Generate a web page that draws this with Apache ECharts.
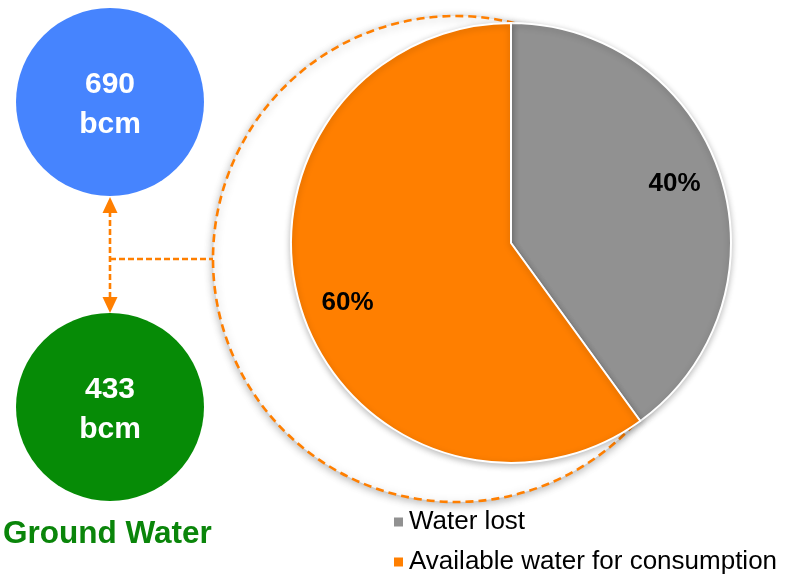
<!DOCTYPE html>
<html>
<head>
<meta charset="utf-8">
<script src="https://cdn.jsdelivr.net/npm/echarts@6/dist/echarts.min.js"></script>
<style>
html,body{margin:0;padding:0;background:#fff;}
#main{width:786px;height:574px;}
</style>
</head>
<body>
<div id="main"></div>
<script>
// Data
var pieCategories = ['Water lost', 'Available water for consumption'];
var pieValues = [40, 60];
var pieColors = ['#919191', '#FF7F00'];
var circleNames = ['Surface Water', 'Ground Water'];
var circleValues = [690, 433];
var circleUnit = 'bcm';
var groundLabel = 'Ground Water';

var chart = echarts.init(document.getElementById('main'), null, {renderer: 'canvas'});

var pieData = pieCategories.map(function (n, i) {
  return {name: n, value: pieValues[i], itemStyle: {color: pieColors[i]}};
});

var dash = '#FF7F00';
var font = 'Liberation Sans, Arial, sans-serif';
function legendFor(name, top) {
  return {
    orient: 'vertical',
    left: 387,
    top: top,
    data: [name],
    icon: 'rect',
    itemWidth: 11,
    itemHeight: 11,
    selectedMode: false,
    textStyle: {fontFamily: font, fontSize: 26, color: '#000', lineHeight: 28}
  };
}
var option = {
  animation: false,
  backgroundColor: '#fff',
  title: {
    text: groundLabel,
    left: 3,
    top: 517,
    padding: 0,
    textStyle: {fontFamily: font, fontSize: 31.5, fontWeight: 'bold', color: '#0A850A', lineHeight: 34}
  },
  legend: [legendFor(pieCategories[0], 503), legendFor(pieCategories[1], 543)],
  graphic: [
    {type: 'circle', z: 0, shape: {cx: 456, cy: 259, r: 243},
     style: {fill: '#fff', stroke: dash, lineWidth: 2.6, lineDash: [8, 5], shadowBlur: 8, shadowColor: 'rgba(0,0,0,0.28)', shadowOffsetY: 2}},
    {type: 'line', z: 1, shape: {x1: 110, y1: 211, x2: 110, y2: 299},
     style: {stroke: dash, lineWidth: 2.6, lineDash: [6, 3]}},
    {type: 'line', z: 1, shape: {x1: 110, y1: 259, x2: 213, y2: 259},
     style: {stroke: dash, lineWidth: 2.6, lineDash: [6, 3]}},
    {type: 'polygon', z: 1, shape: {points: [[102.5, 213], [117.5, 213], [110, 197]]}, style: {fill: dash}},
    {type: 'polygon', z: 1, shape: {points: [[102.5, 297], [117.5, 297], [110, 313]]}, style: {fill: dash}}
  ],
  series: [
    {
      type: 'pie',
      name: 'Water',
      center: [511, 243],
      radius: [0, 220],
      startAngle: 90,
      clockwise: true,
      z: 3,
      silent: true,
      label: {show: false},
      labelLine: {show: false},
      itemStyle: {borderColor: '#fff', borderWidth: 2, shadowBlur: 6, shadowColor: 'rgba(0,0,0,0.25)', shadowOffsetY: 2},
      data: pieData
    },
    {
      type: 'pie',
      name: 'WaterLabels',
      center: [511, 243],
      radius: [122, 220],
      startAngle: 92,
      clockwise: true,
      z: 4,
      silent: true,
      itemStyle: {color: 'rgba(0,0,0,0)'},
      label: {show: true, position: 'inside', formatter: '{d}%', color: '#000', fontSize: 26, fontWeight: 'bold', fontFamily: font},
      labelLine: {show: false},
      data: pieCategories.map(function (n, i) { return {name: n, value: pieValues[i]}; })
    },
    {
      type: 'pie',
      name: circleNames[0],
      center: [110, 102],
      radius: [0, 94],
      silent: true,
      z: 3,
      label: {show: true, position: 'center', offset: [0, 3], formatter: '{c}\n' + circleUnit, color: '#fff', fontSize: 30, fontWeight: 'bold', lineHeight: 40, fontFamily: font},
      labelLine: {show: false},
      itemStyle: {color: '#4684FE'},
      data: [{name: circleNames[0], value: circleValues[0]}]
    },
    {
      type: 'pie',
      name: circleNames[1],
      center: [110, 407],
      radius: [0, 94],
      silent: true,
      z: 3,
      label: {show: true, position: 'center', offset: [0, 3], formatter: '{c}\n' + circleUnit, color: '#fff', fontSize: 30, fontWeight: 'bold', lineHeight: 40, fontFamily: font},
      labelLine: {show: false},
      itemStyle: {color: '#068B06'},
      data: [{name: circleNames[1], value: circleValues[1]}]
    }
  ]
};
chart.setOption(option);
</script>
</body>
</html>
